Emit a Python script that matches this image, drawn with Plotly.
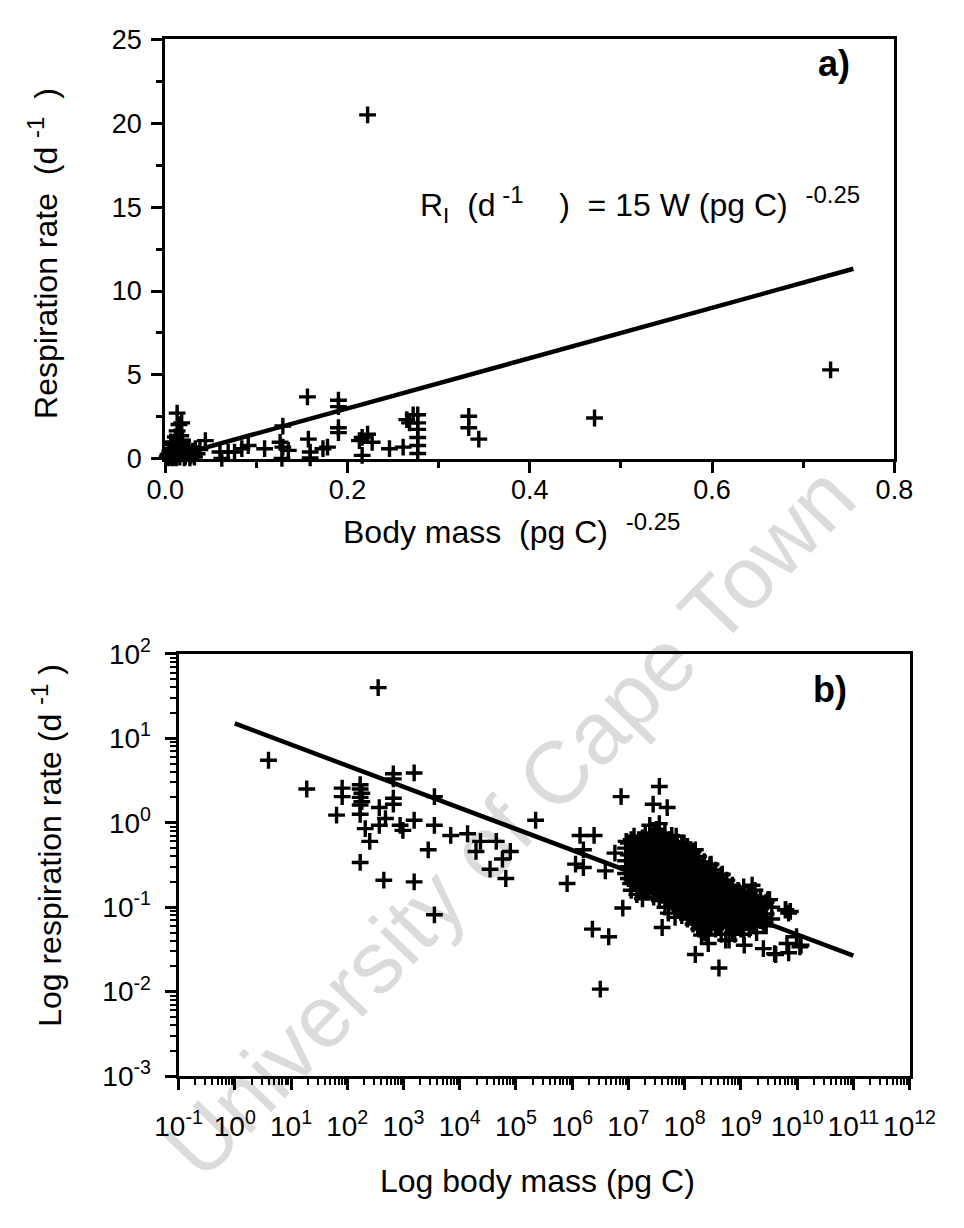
import numpy as np
import plotly.graph_objects as go

# ---------------- DATA ----------------
# Panel a) : body mass^-0.25 (pg C)^-0.25 vs respiration rate (d^-1)
top_mass_pow = [
    0.730, 0.471, 0.333, 0.333, 0.344, 0.222,
    0.156, 0.190, 0.190, 0.190, 0.190, 0.129, 0.157, 0.159, 0.159,
    0.178, 0.173, 0.216, 0.222, 0.213, 0.227, 0.216,
    0.246, 0.261, 0.265, 0.272, 0.277, 0.277, 0.277, 0.277, 0.277, 0.277, 0.268,
    0.129, 0.126, 0.135, 0.128, 0.109, 0.091, 0.084, 0.076, 0.069, 0.060, 0.062,
    0.044, 0.025,
    0.013, 0.015, 0.018, 0.013, 0.017,
    0.004, 0.006, 0.008, 0.005, 0.007, 0.010, 0.012, 0.014, 0.011, 0.013,
    0.016, 0.018, 0.020, 0.017, 0.015, 0.022, 0.024, 0.026, 0.028, 0.030,
    0.032, 0.035, 0.009, 0.019, 0.011, 0.003, 0.002, 0.038, 0.006, 0.021,
    0.008, 0.027, 0.033, 0.005, 0.012,
]
top_rate = [
    5.3, 2.43, 2.53, 1.85, 1.17, 20.5,
    3.69, 3.49, 3.11, 1.85, 1.56, 1.95, 1.17, 0.40, 0.05,
    0.69, 0.60, 1.27, 1.46, 1.08, 0.98, 0.20,
    0.60, 0.69, 2.33, 2.62, 2.62, 2.14, 1.75, 1.27, 0.79, 0.31, 2.14,
    0.69, 0.98, 0.50, 0.02, 0.60, 0.79, 0.60, 0.40, 0.40, 0.40, 0.02,
    1.08, 0.69,
    2.72, 2.04, 2.14, 1.66, 1.37,
    0.05, 0.15, 0.30, 0.45, 0.60, 0.10, 0.25, 0.40, 0.55, 0.75,
    0.10, 0.30, 0.50, 0.70, 0.90, 0.15, 0.35, 0.60, 0.20, 0.45,
    0.10, 0.30, 0.85, 1.10, 1.30, 0.25, 0.10, 0.55, 1.00, 0.05,
    0.05, 0.05, 0.60, 0.25, 0.05,
]

# Panel b) : log10 body mass (pg C) vs log10 respiration rate (d^-1)
# scattered points
bot_log_mass = [
    0.60, 1.28, 1.91, 1.91, 1.81, 2.23, 2.23, 2.26, 2.23, 2.26, 2.23, 2.23,
    2.32, 2.40, 2.23, 2.65, 2.82, 2.82, 2.82, 2.82, 2.57, 2.68, 2.57, 2.94,
    2.99, 3.19, 3.55, 3.19, 3.55, 3.19, 3.44, 3.55, 3.84, 4.14, 4.37, 4.29,
    4.65, 4.54, 4.90, 4.76, 4.82, 5.35, 6.14, 6.39, 6.20, 6.06, 6.20, 5.91,
    6.36, 6.65, 6.50, 2.55,
    6.87, 7.55, 7.44, 7.69, 7.38, 7.55, 6.96, 7.15, 6.76, 6.59, 7.04, 6.90,
    7.71, 7.83, 7.60, 9.20, 9.48, 9.80, 9.85, 9.99, 10.07, 9.82, 9.85, 9.60,
    9.40, 9.06, 8.79, 8.42, 8.30, 8.19, 8.61, 8.89, 9.28, 9.40, 9.88, 10.05,
    9.62, 7.77, 7.99, 8.19, 8.47, 8.67, 9.51, 9.79, 8.16, 8.39, 8.73, 7.88,
]
bot_log_rate = [
    0.74, 0.40, 0.41, 0.31, 0.09, 0.45, 0.40, 0.35, 0.30, 0.25, 0.21, 0.10,
    -0.07, -0.22, -0.47, -0.68, 0.58, 0.52, 0.29, 0.22, 0.18, 0.05, -0.03, -0.03,
    -0.09, 0.59, 0.31, 0.03, -0.03, -0.70, -0.32, -1.09, -0.15, -0.13, -0.22, -0.34,
    -0.22, -0.55, -0.34, -0.43, -0.66, 0.03, -0.15, -0.15, -0.32, -0.49, -0.53, -0.72,
    -1.26, -1.35, -1.97, 1.60,
    0.31, 0.43, 0.22, 0.18, -0.03, -0.01, -0.22, -0.24, -0.36, -0.57, -0.72, -1.01,
    -1.07, -1.12, -1.24, -0.74, -0.91, -1.03, -1.07, -1.35, -1.45, -1.43, -1.54, -1.55,
    -1.49, -1.45, -1.39, -1.43, -1.33, -1.56, -1.72, -1.32, -1.30, -1.18, -1.05, -1.47,
    -1.56, -0.15, -0.24, -0.32, -0.49, -0.61, -0.91, -1.03, -1.14, -1.33, -1.39, -0.87,
]

# dense cluster of points between 10^7 and 10^10 pg C (read column by column)
cluster_log_mass = (
    [6.95] * 3 + [7.00] * 4 + [7.05] * 5 + [7.10] * 5 + [7.15] * 5 + [7.20] * 5
    + [7.25] * 6 + [7.30] * 6 + [7.35] * 5 + [7.40] * 5 + [7.45] * 6 + [7.50] * 6
    + [7.55] * 6 + [7.60] * 6 + [7.65] * 7 + [7.70] * 6 + [7.75] * 6 + [7.80] * 6
    + [7.85] * 7 + [7.90] * 6 + [7.95] * 7 + [8.00] * 6 + [8.05] * 7 + [8.10] * 6
    + [8.15] * 7 + [8.20] * 6 + [8.25] * 7 + [8.30] * 6 + [8.35] * 7 + [8.40] * 5
    + [8.45] * 6 + [8.50] * 5 + [8.55] * 6 + [8.60] * 5 + [8.65] * 6 + [8.70] * 4
    + [8.75] * 5 + [8.80] * 4 + [8.85] * 5 + [8.90] * 3 + [8.95] * 4 + [9.00] * 4
    + [9.05] * 5 + [9.10] * 3 + [9.15] * 4 + [9.20] * 3 + [9.25] * 4 + [9.30] * 2
    + [9.35] * 3 + [9.40] * 2 + [9.45] * 3 + [9.55] * 2
)
cluster_log_rate = [
    -0.30, -0.45, -0.60,
    -0.24, -0.38, -0.52, -0.66,
    -0.20, -0.38, -0.52, -0.66, -0.80,
    -0.16, -0.30, -0.44, -0.58, -0.72,
    -0.28, -0.42, -0.56, -0.70, -0.85,
    -0.22, -0.36, -0.50, -0.64, -0.78,
    -0.18, -0.32, -0.46, -0.60, -0.74, -0.90,
    -0.12, -0.26, -0.40, -0.54, -0.68, -0.82,
    -0.25, -0.40, -0.54, -0.68, -0.82,
    -0.20, -0.34, -0.48, -0.62, -0.76,
    -0.15, -0.30, -0.44, -0.58, -0.72, -0.88,
    -0.08, -0.24, -0.38, -0.52, -0.66, -0.80,
    -0.22, -0.36, -0.50, -0.64, -0.78, -0.92,
    -0.16, -0.30, -0.44, -0.58, -0.72, -0.86,
    -0.12, -0.28, -0.42, -0.56, -0.70, -0.84, -1.00,
    -0.22, -0.36, -0.50, -0.64, -0.78, -0.92,
    -0.20, -0.34, -0.48, -0.62, -0.76, -0.90,
    -0.26, -0.40, -0.54, -0.68, -0.82, -0.96,
    -0.16, -0.30, -0.44, -0.58, -0.72, -0.86, -1.02,
    -0.30, -0.44, -0.58, -0.72, -0.86, -1.00,
    -0.24, -0.38, -0.52, -0.66, -0.80, -0.94, -1.10,
    -0.34, -0.48, -0.62, -0.76, -0.90, -1.04,
    -0.28, -0.42, -0.56, -0.70, -0.84, -0.98, -1.14,
    -0.40, -0.54, -0.68, -0.82, -0.96, -1.10,
    -0.34, -0.48, -0.62, -0.76, -0.90, -1.04, -1.20,
    -0.46, -0.60, -0.74, -0.88, -1.02, -1.16,
    -0.40, -0.54, -0.68, -0.82, -0.96, -1.10, -1.26,
    -0.52, -0.66, -0.80, -0.94, -1.08, -1.22,
    -0.46, -0.60, -0.74, -0.88, -1.02, -1.16, -1.30,
    -0.56, -0.70, -0.84, -0.98, -1.12,
    -0.50, -0.64, -0.78, -0.92, -1.06, -1.20,
    -0.62, -0.76, -0.90, -1.04, -1.18,
    -0.56, -0.70, -0.84, -0.98, -1.12, -1.26,
    -0.68, -0.82, -0.96, -1.10, -1.24,
    -0.62, -0.76, -0.90, -1.04, -1.18, -1.32,
    -0.74, -0.88, -1.02, -1.16,
    -0.68, -0.82, -0.96, -1.10, -1.24,
    -0.80, -0.94, -1.08, -1.22,
    -0.74, -0.88, -1.02, -1.16, -1.30,
    -0.86, -1.00, -1.14,
    -0.80, -0.94, -1.08, -1.22,
    -0.86, -1.00, -1.14, -1.26,
    -0.76, -0.90, -1.04, -1.18, -1.32,
    -0.90, -1.04, -1.18,
    -0.84, -0.98, -1.12, -1.26,
    -0.88, -1.02, -1.16,
    -0.80, -0.94, -1.08, -1.22,
    -0.94, -1.08,
    -0.88, -1.02, -1.16,
    -1.00, -1.12,
    -0.94, -1.08, -1.22,
    -1.00, -1.14,
]

# Fitted relation R = 15 W^-0.25
fit_coef = 15.0
fit_exp = -0.25
fit_top_x = [0.0, 0.755]          # range of W^-0.25 covered by the line
fit_bot_log_mass = [0.0, 11.0]    # range of log10 W covered by the line

top_xticks = [0.0, 0.2, 0.4, 0.6, 0.8]
top_xticktext = ["0.0", "0.2", "0.4", "0.6", "0.8"]
top_yticks = [0, 5, 10, 15, 20, 25]
bot_xexp = list(range(-1, 13))
bot_yexp = list(range(-3, 3))

# ---------------- FIGURE ----------------
W, H = 964, 1228
FONT = "Liberation Sans, Arial, Helvetica, sans-serif"
TOP_TICK = 27
BOT_TICK = 28
TITLE_SIZE = 32
NB = "&nbsp;"


def px(x):
    return x / W


def py(y):
    return 1 - y / H


def sup(t, size=24):
    return '<sup><span style="font-size:%dpx">%s</span></sup>' % (size, t)


marker = dict(symbol="cross-thin", size=12, color="black",
              line=dict(width=3.4, color="black"))

fig = go.Figure()

fig.add_trace(go.Scatter(x=top_mass_pow, y=top_rate, mode="markers",
                         marker=marker, cliponaxis=False,
                         xaxis="x", yaxis="y", showlegend=False))
ftx = np.array(fit_top_x)
fig.add_trace(go.Scatter(x=ftx, y=fit_coef * ftx, mode="lines",
                         line=dict(color="black", width=4.5),
                         xaxis="x", yaxis="y", showlegend=False))

all_log_mass = np.array(bot_log_mass + cluster_log_mass)
all_log_rate = np.array(bot_log_rate + cluster_log_rate)
fig.add_trace(go.Scatter(x=10 ** all_log_mass, y=10 ** all_log_rate,
                         mode="markers", marker=marker,
                         cliponaxis=False, xaxis="x2", yaxis="y2",
                         showlegend=False))
fbm = 10 ** np.array(fit_bot_log_mass)
fig.add_trace(go.Scatter(x=fbm, y=fit_coef * fbm ** fit_exp, mode="lines",
                         line=dict(color="black", width=4.5),
                         xaxis="x2", yaxis="y2", showlegend=False))


def axis_common(size):
    return dict(showline=True, linecolor="black", linewidth=3,
                mirror=True, ticks="outside", tickwidth=2.5,
                tickcolor="black", showgrid=False, zeroline=False,
                ticklen=11,
                tickfont=dict(family=FONT, size=size, color="black"))


fig.update_layout(
    width=W, height=H,
    margin=dict(l=0, r=0, t=0, b=0),
    paper_bgcolor="white", plot_bgcolor="white",
    font=dict(family=FONT, color="black"),
    xaxis=dict(domain=[px(149), px(918)], range=[0, 0.8],
               tickmode="array", tickvals=top_xticks, ticktext=top_xticktext,
               ticklabelstandoff=-6,
               minor=dict(dtick=0.1, ticks="outside", ticklen=6,
                          tickwidth=2.5, tickcolor="black", showgrid=False),
               anchor="y", **axis_common(TOP_TICK)),
    yaxis=dict(domain=[py(452), py(20)], range=[0, 25],
               tickmode="array", tickvals=top_yticks,
               ticklabelstandoff=4,
               minor=dict(dtick=2.5, ticks="outside", ticklen=6,
                          tickwidth=2.5, tickcolor="black", showgrid=False),
               anchor="x", **axis_common(TOP_TICK)),
    xaxis2=dict(domain=[px(163), px(934)], type="log", range=[-1, 12],
                tickmode="array", tickvals=[10.0 ** e for e in bot_xexp],
                ticktext=["10<sup>%d</sup>" % e for e in bot_xexp],
                ticklabelstandoff=12,
                minor=dict(dtick="D1", ticks="outside", ticklen=6,
                           tickwidth=1.5, tickcolor="black", showgrid=False),
                anchor="y2", **axis_common(BOT_TICK)),
    yaxis2=dict(domain=[py(1088), py(653)], type="log", range=[-3, 2],
                tickmode="array", tickvals=[10.0 ** e for e in bot_yexp],
                ticktext=["10<sup>%d</sup>" % e for e in bot_yexp],
                ticklabelstandoff=8,
                minor=dict(dtick="D1", ticks="outside", ticklen=6,
                           tickwidth=1.5, tickcolor="black", showgrid=False),
                anchor="x2", **axis_common(BOT_TICK)),
)

ann = []


def add_text(text, x, y, size=TITLE_SIZE, angle=0, xanchor="center",
             bold=False, color="black"):
    if bold:
        text = "<b>" + text + "</b>"
    ann.append(dict(text=text, x=px(x), y=py(y), xref="paper", yref="paper",
                    showarrow=False, textangle=angle, xanchor=xanchor,
                    yanchor="middle",
                    font=dict(family=FONT, size=size, color=color)))


# watermark (translucent black keeps the crosses black where they overlap)
add_text("University of Cape Town", 512, 826, size=88, angle=-46,
         color="rgba(0,0,0,0.14)")

add_text("a)", 854, 45, size=36, bold=True)
add_text("b)", 850, 690, size=36, bold=True)
add_text("R<sub>I</sub>" + NB * 2 + "(d" + sup(NB + "-1") + NB * 4 + ")"
         + NB + " = 15 W (pg C) " + NB + sup("-0.25"),
         416, 190, xanchor="left")
add_text("Body mass" + NB * 2 + "(pg C) " + NB + sup("-0.25"), 514, 524)
add_text("Respiration rate" + NB * 2 + "(d " + sup("-1") + NB * 2 + ")",
         20, 240, angle=-90)
add_text("Log body mass (pg C)", 542, 1196)
add_text("Log respiration rate (d " + sup("-1") + " )", 24, 850, angle=-90)

fig.update_layout(annotations=ann)

fig.write_html("out.html")
